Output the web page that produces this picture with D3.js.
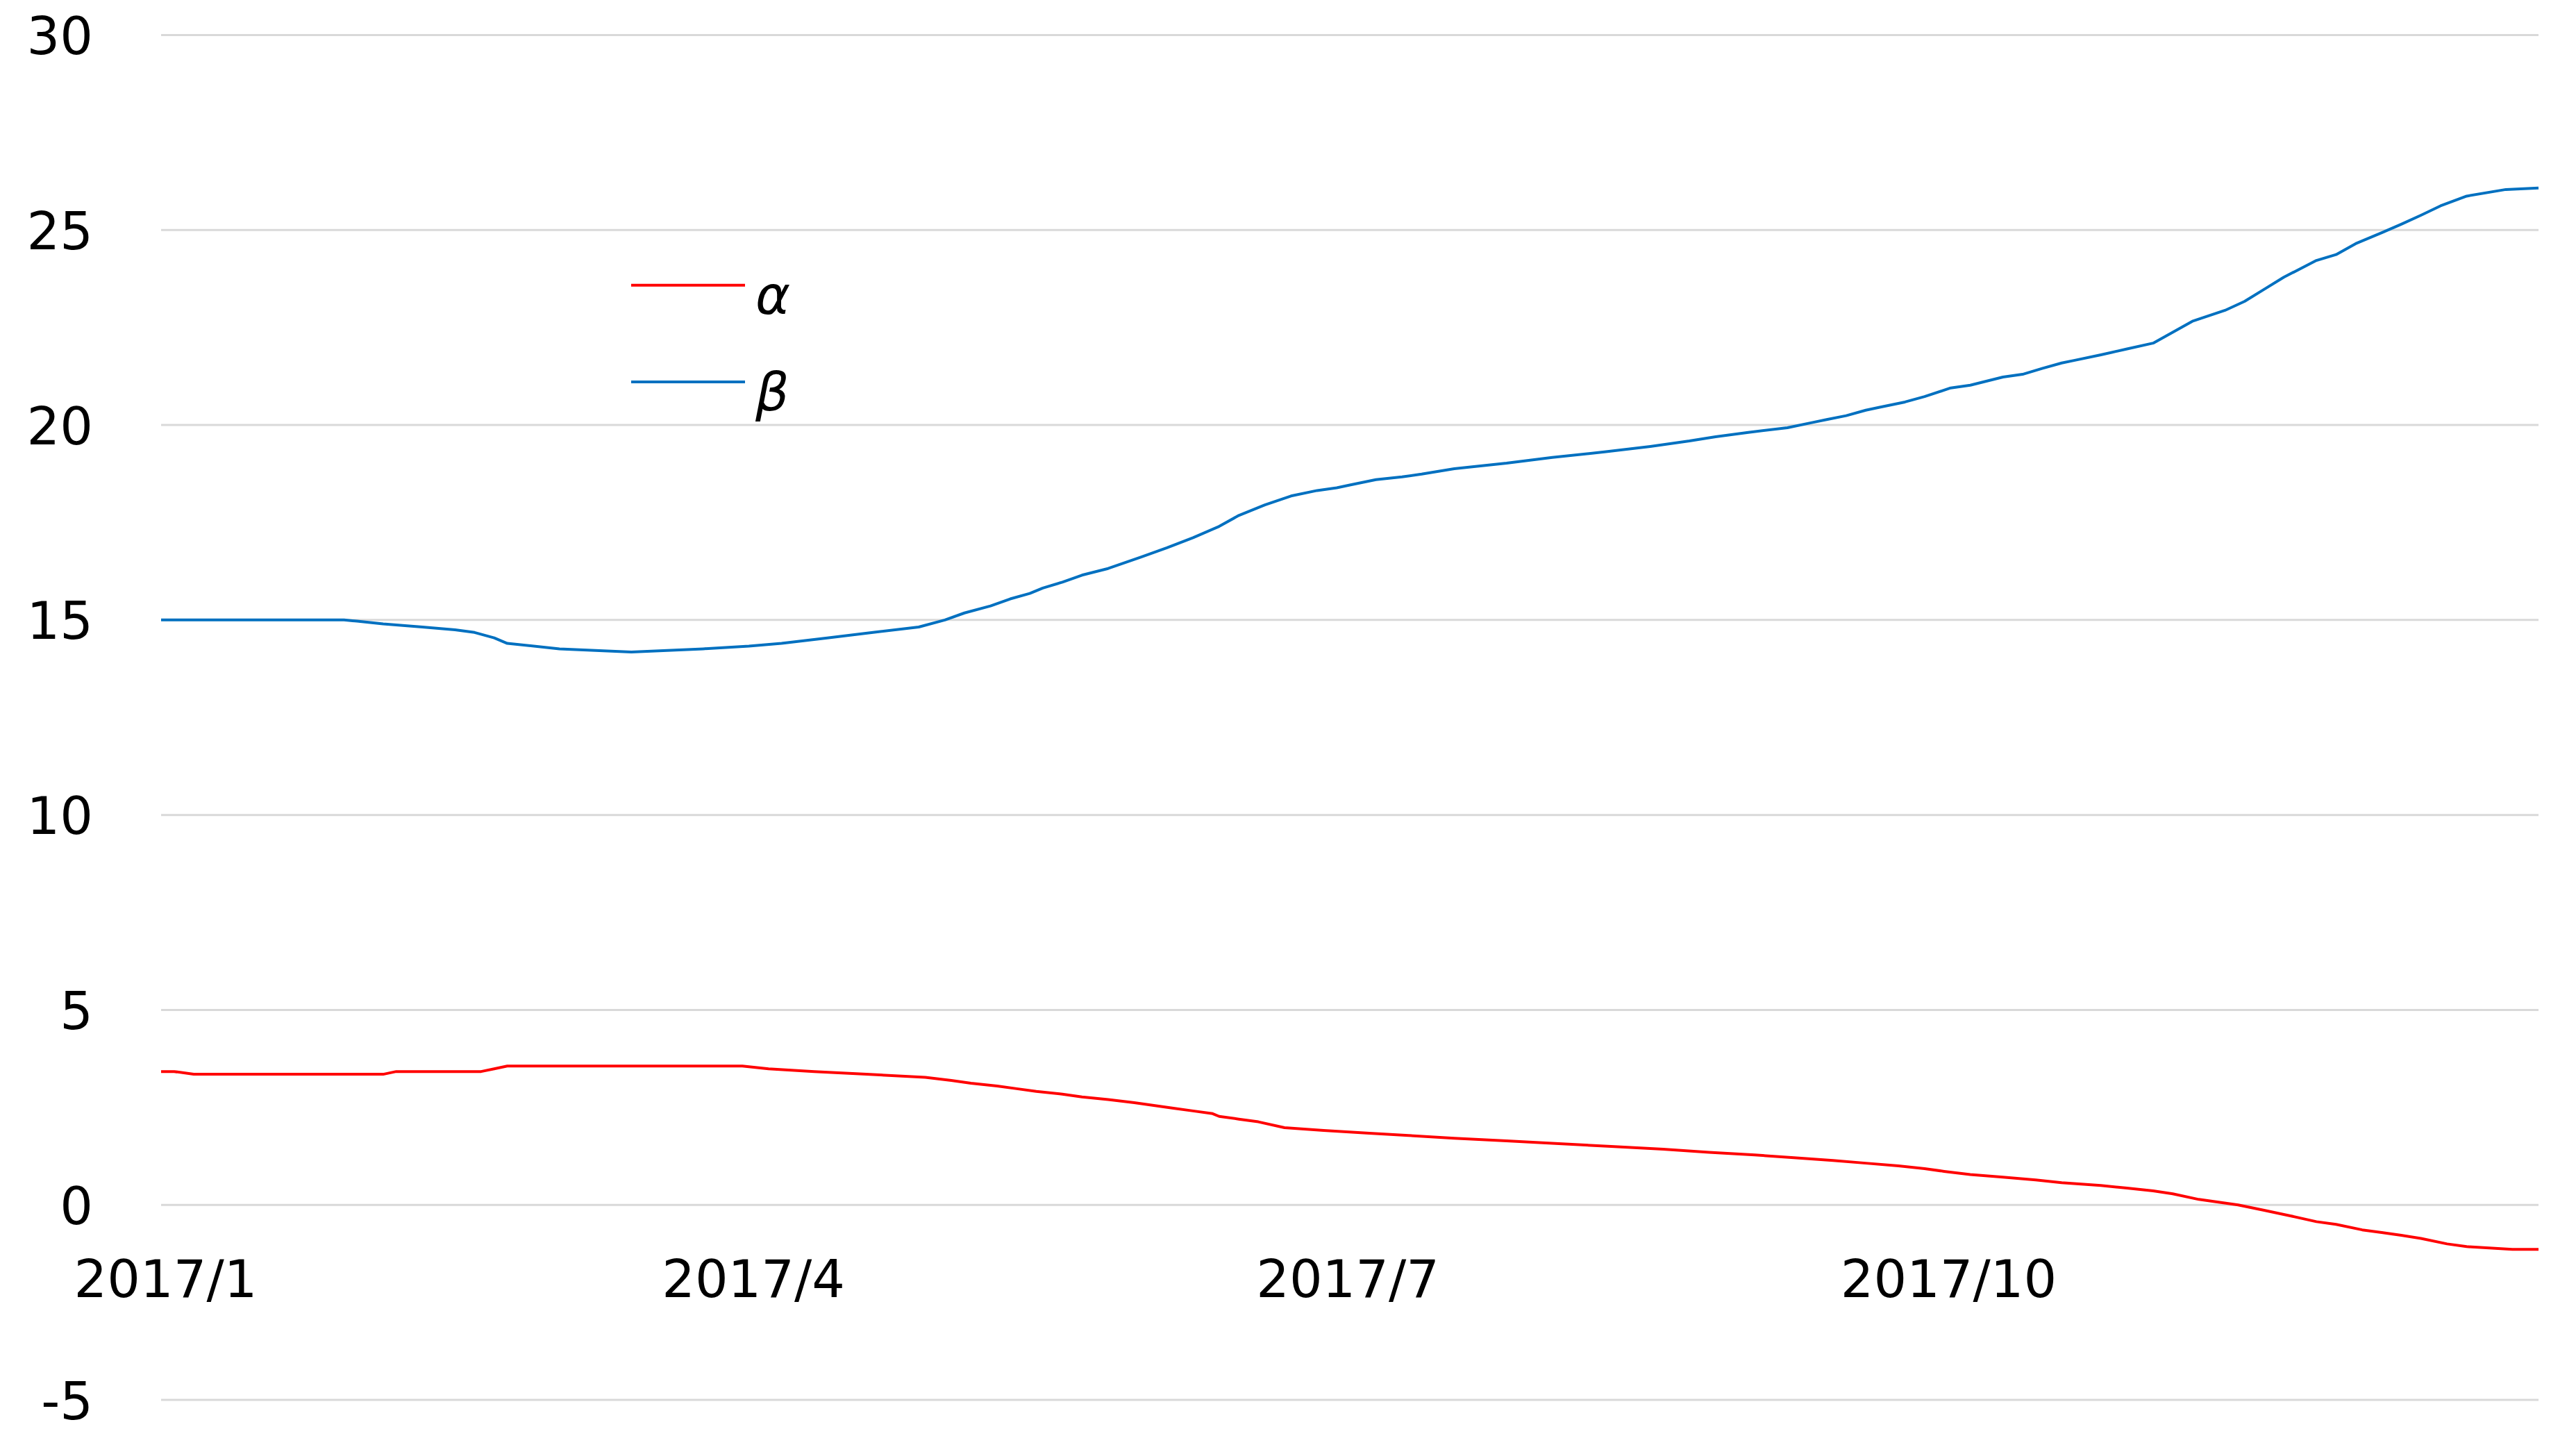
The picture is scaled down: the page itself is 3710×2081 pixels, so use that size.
<!DOCTYPE html>
<html>
<head>
<meta charset="utf-8">
<script src="https://cdn.jsdelivr.net/npm/d3@7"></script>
<style>
  html, body { margin: 0; padding: 0; background: #fff; }
  svg { display: block; }
</style>
</head>
<body>
<svg id="chart" width="3710" height="2081"></svg>
<script>
// ---- Data ----
const yTicks = [-5, 0, 5, 10, 15, 20, 25, 30];
const xTickDates = ["2017-01-01", "2017-04-01", "2017-07-01", "2017-10-01"];
const xTickLabels = ["2017/1", "2017/4", "2017/7", "2017/10"];
const seriesNames = ["α", "β"];
const seriesColors = ["#FF0000", "#0070C0"];

const alphaDates = ["2017-01-01","2017-01-03","2017-01-06","2017-01-21","2017-02-04","2017-02-06","2017-02-19","2017-02-21","2017-02-23","2017-03-12","2017-03-31","2017-04-04","2017-04-11","2017-04-19","2017-04-28","2017-05-02","2017-05-05","2017-05-09","2017-05-12","2017-05-15","2017-05-19","2017-05-22","2017-05-26","2017-05-30","2017-06-02","2017-06-05","2017-06-08","2017-06-11","2017-06-12","2017-06-15","2017-06-18","2017-06-22","2017-06-28","2017-07-05","2017-07-11","2017-07-18","2017-07-26","2017-08-03","2017-08-11","2017-08-19","2017-08-26","2017-09-02","2017-09-08","2017-09-14","2017-09-19","2017-09-24","2017-09-28","2017-10-01","2017-10-05","2017-10-10","2017-10-15","2017-10-19","2017-10-25","2017-10-29","2017-11-02","2017-11-05","2017-11-09","2017-11-12","2017-11-15","2017-11-19","2017-11-23","2017-11-27","2017-11-30","2017-12-04","2017-12-07","2017-12-10","2017-12-13","2017-12-17","2017-12-20","2017-12-27","2017-12-31"];
const alphaValues = [3.42,3.42,3.35,3.35,3.35,3.42,3.42,3.49,3.56,3.56,3.56,3.49,3.42,3.35,3.27,3.19,3.12,3.05,2.98,2.91,2.84,2.77,2.70,2.62,2.55,2.48,2.41,2.34,2.27,2.20,2.13,1.98,1.91,1.84,1.78,1.71,1.64,1.57,1.50,1.43,1.35,1.28,1.21,1.14,1.07,1.00,0.93,0.86,0.78,0.71,0.64,0.57,0.50,0.43,0.36,0.285,0.14,0.07,0.0,-0.14,-0.28,-0.43,-0.50,-0.64,-0.71,-0.78,-0.86,-1.00,-1.07,-1.14,-1.14];

const betaDates = ["2017-01-01","2017-01-15","2017-01-29","2017-01-31","2017-02-04","2017-02-10","2017-02-15","2017-02-18","2017-02-21","2017-02-23","2017-03-03","2017-03-14","2017-03-25","2017-04-01","2017-04-06","2017-04-13","2017-04-20","2017-04-27","2017-05-01","2017-05-04","2017-05-08","2017-05-11","2017-05-14","2017-05-16","2017-05-19","2017-05-22","2017-05-26","2017-05-31","2017-06-04","2017-06-08","2017-06-12","2017-06-15","2017-06-19","2017-06-23","2017-06-27","2017-06-30","2017-07-02","2017-07-06","2017-07-10","2017-07-13","2017-07-18","2017-07-22","2017-07-26","2017-08-02","2017-08-10","2017-08-17","2017-08-23","2017-08-27","2017-09-01","2017-09-07","2017-09-11","2017-09-13","2017-09-16","2017-09-19","2017-09-21","2017-09-25","2017-09-28","2017-10-02","2017-10-05","2017-10-10","2017-10-13","2017-10-16","2017-10-19","2017-10-21","2017-10-25","2017-10-29","2017-11-02","2017-11-05","2017-11-08","2017-11-13","2017-11-16","2017-11-19","2017-11-22","2017-11-27","2017-11-30","2017-12-03","2017-12-07","2017-12-10","2017-12-13","2017-12-16","2017-12-20","2017-12-26","2017-12-31"];
const betaValues = [15.0,15.0,15.0,14.97,14.90,14.82,14.75,14.68,14.54,14.40,14.26,14.18,14.26,14.33,14.40,14.54,14.68,14.82,15.0,15.18,15.36,15.54,15.68,15.82,15.97,16.15,16.32,16.61,16.85,17.11,17.40,17.68,17.95,18.18,18.32,18.39,18.46,18.60,18.67,18.74,18.88,18.95,19.02,19.17,19.31,19.45,19.59,19.70,19.81,19.93,20.07,20.14,20.24,20.38,20.45,20.59,20.73,20.95,21.02,21.23,21.30,21.45,21.59,21.66,21.80,21.95,22.10,22.38,22.66,22.94,23.17,23.48,23.79,24.22,24.37,24.65,24.93,25.15,25.38,25.62,25.87,26.04,26.08];

// ---- Build ----
const parse = d3.utcParse("%Y-%m-%d");
const series = [
  { name: seriesNames[0], color: seriesColors[0], points: alphaDates.map((d, i) => ({ date: parse(d), value: alphaValues[i] })) },
  { name: seriesNames[1], color: seriesColors[1], points: betaDates.map((d, i) => ({ date: parse(d), value: betaValues[i] })) }
];

const plotLeft = 232, plotRight = 3656, plotTop = 50.5, plotBottom = 2016;
const x = d3.scaleUtc().domain([parse("2017-01-01"), parse("2017-12-31")]).range([plotLeft, plotRight]);
const y = d3.scaleLinear().domain([-5, 30]).range([plotBottom, plotTop]);

const svg = d3.select("#chart");
const fontFamily = "'DejaVu Sans', Verdana, sans-serif";

// Gridlines
svg.append("g").selectAll("line").data(yTicks).join("line")
  .attr("x1", plotLeft).attr("x2", plotRight)
  .attr("y1", d => y(d)).attr("y2", d => y(d))
  .attr("stroke", "#D9D9D9").attr("stroke-width", 3);

// Y axis labels
const yAxis = d3.axisLeft(y).tickValues(yTicks).tickSize(0).tickPadding(0).tickFormat(d => String(d));
const yG = svg.append("g").attr("transform", "translate(134,0)").call(yAxis);
yG.select(".domain").remove();
yG.selectAll("text").attr("font-family", fontFamily).attr("font-size", 75).attr("fill", "#000").attr("dy", "0.36em");

// X axis labels
const xAxis = d3.axisBottom(x).tickValues(xTickDates.map(parse)).tickSize(0).tickPadding(0)
  .tickFormat((d, i) => xTickLabels[i]);
const xG = svg.append("g").attr("transform", "translate(6,1868)").call(xAxis);
xG.select(".domain").remove();
xG.selectAll("text").attr("font-family", fontFamily).attr("font-size", 75).attr("fill", "#000").attr("dy", 0);

// Lines
const line = d3.line().x(d => x(d.date)).y(d => y(d.value)).curve(d3.curveLinear);
svg.append("g").selectAll("path").data(series).join("path")
  .attr("d", d => line(d.points))
  .attr("fill", "none")
  .attr("stroke", d => d.color)
  .attr("stroke-width", 4)
  .attr("stroke-linejoin", "round");

// Legend
const legendY = [410.7, 550];
const legendBase = [452, 591];
const lg = svg.append("g");
series.forEach((s, i) => {
  lg.append("line").attr("x1", 909).attr("x2", 1073).attr("y1", legendY[i]).attr("y2", legendY[i])
    .attr("stroke", s.color).attr("stroke-width", 4);
  lg.append("text").attr("x", 1088).attr("y", legendBase[i]).text(s.name)
    .attr("font-family", fontFamily).attr("font-style", "italic").attr("font-size", 76).attr("fill", "#000");
});
</script>
</body>
</html>
